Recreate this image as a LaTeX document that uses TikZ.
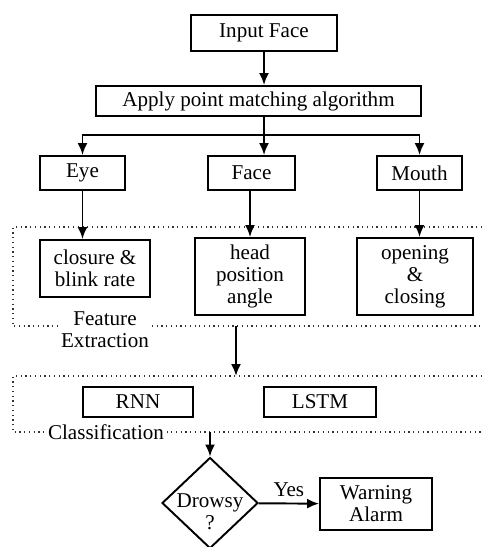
\documentclass[tikz,border=0pt]{standalone}
\usepackage{fontspec}
\setmainfont{Liberation Serif}
\usetikzlibrary{shapes.geometric,arrows.meta}

\begin{document}
\begin{tikzpicture}[x=0.02cm,y=-0.02cm,font=\fontsize{12}{12.5}\selectfont,
  box/.style={draw,line width=1.1pt,inner sep=0pt,align=center},
  frame/.style={draw=black!80,dotted,line width=0.7pt},
  tag/.style={fill=white,inner sep=2pt,align=center},
  arr/.style={line width=1.1pt,-{Latex[length=2.4mm,width=2mm]}}]
\useasboundingbox (0,0) rectangle (482,547);
\node[box,minimum width=2.92cm,minimum height=0.72cm] (input) at (264,33) {Input Face};
\node[box,minimum width=6.5cm,minimum height=0.6cm] (apply) at (258.5,101) {Apply point matching algorithm};
\node[box,minimum width=1.7cm,minimum height=0.68cm] (eye) at (82.5,173) {Eye};
\node[box,minimum width=1.74cm,minimum height=0.68cm] (face) at (251.5,173) {Face};
\node[box,minimum width=1.7cm,minimum height=0.68cm] (mouth) at (419.5,173) {Mouth};
\node[box,minimum width=2.2cm,minimum height=1.14cm] (closure) at (95,268.5) {closure \&\\blink rate};
\node[box,minimum width=2.2cm,minimum height=1.54cm] (head) at (250,276.5) {head\\position\\angle};
\node[box,minimum width=2.32cm,minimum height=1.54cm] (opening) at (415,276.5) {opening\\\&\\closing};
\node[box,minimum width=2.2cm,minimum height=0.6cm] (rnn) at (138,402) {RNN};
\node[box,minimum width=2.24cm,minimum height=0.6cm] (lstm) at (320,402) {LSTM};
\node[box,shape=diamond,aspect=1,minimum width=1.92cm,minimum height=1.82cm] (drowsy) at (210,503) {};
\node[align=center,inner sep=0pt] (drowsytxt) at (210,512) {Drowsy\\?};
\node[box,minimum width=2.24cm,minimum height=1.04cm] (warn) at (376,504) {Warning\\Alarm};
\draw[frame] (482,227) -| (13,326) -- (482,326);
\node[tag] (featlbl) at (105,330) {Feature\\Extraction};
\draw[frame] (482,376) -| (13,432) -- (482,432);
\node[tag] (clslbl) at (106,432) {Classification};
\coordinate (split) at (264,135);
\coordinate (featout) at (236,326);
\coordinate (clsin) at (236,376);
\coordinate (clsout) at (210,432);
\draw[arr] (input.south -| split) -- (apply.north -| split);
\draw[line width=1.1pt] (apply.south -| split) -- (split);
\draw[arr] (split) -| (eye);
\draw[arr] (split) -- (split |- face.north);
\draw[arr] (split) -| (mouth);
\draw[arr] (eye) -- (eye |- closure.north);
\draw[arr] (face.south -| head) -- (head);
\draw[arr] (mouth) -- (mouth |- opening.north);
\draw[arr] (featout) -- (clsin);
\draw[arr] (clsout) -- (drowsy);
\draw[arr] (drowsy) -- node[above] {Yes} (warn);
\end{tikzpicture}
\end{document}
